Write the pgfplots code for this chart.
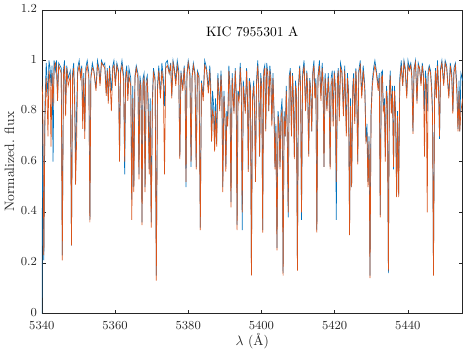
\documentclass[border=0pt]{standalone}
\usepackage{pgfplots}
\usepackage{pgfplotstable}
\pgfplotsset{compat=1.18}
\definecolor{mblue}{rgb}{0,0.447,0.741}
\definecolor{morange}{rgb}{0.85,0.325,0.098}
\definecolor{axgray}{rgb}{0.15,0.15,0.15}
\pgfplotstableread{
x b o
5340.00 0.00 0.90
5340.25 0.75 0.86
5340.55 0.21 0.23
5340.85 0.82 0.76
5341.20 0.99 0.93
5341.45 0.92 0.85
5341.68 0.86 0.70
5341.95 1.00 0.96
5342.25 0.97 0.92
5342.51 0.90 0.66
5342.80 0.98 0.95
5343.07 0.60 0.82
5343.35 1.00 0.97
5343.70 0.96 0.99
5344.00 1.00 0.97
5344.30 0.86 0.84
5344.60 0.99 0.98
5345.30 0.97 0.95
5345.59 0.23 0.21
5345.90 0.96 0.94
5346.20 1.00 0.98
5346.50 0.82 0.78
5346.80 0.98 0.97
5347.20 0.93 0.90
5347.80 0.96 0.94
5348.10 0.27 0.27
5348.40 0.95 0.93
5348.70 0.99 0.97
5349.00 0.85 0.80
5349.22 0.57 0.51
5349.50 0.80 0.68
5349.80 0.97 0.95
5350.20 1.00 0.98
5350.60 0.94 0.93
5350.90 0.98 0.97
5351.17 0.76 0.73
5351.45 0.95 0.93
5351.73 0.72 0.69
5352.00 0.97 0.95
5352.40 1.00 0.98
5352.85 0.95 0.93
5353.13 0.37 0.36
5353.40 0.94 0.93
5353.80 0.99 0.97
5354.20 0.96 0.96
5354.80 0.89 0.88
5355.20 1.00 0.98
5355.60 0.97 0.96
5355.90 0.91 0.90
5356.30 1.00 0.99
5356.80 0.98 0.98
5357.20 0.99 0.97
5357.60 0.87 0.86
5357.90 0.97 0.96
5358.16 0.84 0.83
5358.50 0.98 0.97
5359.00 0.88 0.80
5359.40 0.98 0.97
5359.70 1.00 0.98
5360.10 0.91 0.90
5360.50 0.99 0.98
5360.95 0.96 0.95
5361.23 0.62 0.60
5361.50 0.96 0.95
5361.90 1.00 0.98
5362.35 0.94 0.92
5362.63 0.55 0.60
5362.90 0.95 0.93
5363.20 0.98 0.96
5363.50 0.86 0.84
5363.80 0.97 0.94
5364.30 0.93 0.90
5364.58 0.45 0.37
5364.85 0.90 0.85
5365.14 0.50 0.48
5365.45 0.94 0.93
5365.80 0.98 0.97
5366.25 0.95 0.93
5366.54 0.55 0.53
5366.80 0.94 0.92
5367.10 0.90 0.88
5367.37 0.36 0.35
5367.65 0.93 0.91
5367.95 0.95 0.93
5368.21 0.50 0.48
5368.50 0.92 0.90
5368.80 0.94 0.92
5369.05 0.85 0.80
5369.33 0.57 0.55
5369.60 0.85 0.80
5369.89 0.36 0.34
5370.20 0.85 0.82
5370.50 0.97 0.95
5370.95 0.93 0.92
5371.28 0.15 0.13
5371.60 0.90 0.88
5371.95 0.98 0.96
5372.40 0.86 0.85
5372.80 0.99 0.96
5373.20 0.93 0.90
5373.52 0.82 0.55
5373.85 0.99 0.97
5374.30 1.00 0.98
5374.80 0.95 0.95
5375.20 0.99 0.98
5375.50 0.86 0.85
5375.85 1.00 0.99
5376.20 0.97 0.96
5376.60 0.92 0.90
5377.00 1.00 0.98
5377.40 0.96 0.94
5377.71 0.62 0.61
5378.00 0.96 0.95
5378.50 0.89 0.88
5378.90 0.98 0.97
5379.15 0.90 0.88
5379.39 0.50 0.52
5379.65 0.95 0.94
5380.00 1.00 0.99
5380.45 0.96 0.94
5380.78 0.58 0.60
5381.05 0.94 0.93
5381.40 0.99 0.98
5381.85 0.95 0.94
5382.18 0.58 0.57
5382.50 0.96 0.95
5382.95 0.94 0.93
5383.30 0.34 0.33
5383.60 0.92 0.91
5384.10 0.86 0.84
5384.50 1.00 0.98
5385.00 0.97 0.96
5385.50 0.89 0.87
5385.90 0.98 0.96
5386.15 0.90 0.85
5386.37 0.68 0.68
5386.65 0.88 0.80
5386.95 0.82 0.78
5387.21 0.66 0.64
5387.45 0.85 0.80
5387.77 0.68 0.66
5388.10 0.95 0.93
5388.60 0.82 0.80
5388.95 0.96 0.94
5389.20 0.88 0.85
5389.44 0.50 0.48
5389.75 0.88 0.86
5390.05 0.78 0.76
5390.28 0.58 0.56
5390.55 0.80 0.78
5390.80 0.76 0.74
5391.10 0.98 0.96
5391.40 0.90 0.88
5391.68 0.44 0.42
5392.00 0.95 0.93
5392.50 0.80 0.79
5392.85 0.97 0.96
5393.10 0.88 0.86
5393.35 0.35 0.33
5393.60 0.88 0.86
5393.90 0.85 0.84
5394.20 0.99 0.97
5394.50 0.90 0.88
5394.75 0.33 0.40
5395.05 0.92 0.90
5395.60 0.80 0.79
5395.95 0.97 0.96
5396.20 0.85 0.84
5396.42 0.57 0.56
5396.70 0.93 0.92
5397.00 0.90 0.88
5397.26 0.17 0.15
5397.55 0.85 0.84
5397.90 0.92 0.90
5398.15 0.80 0.78
5398.38 0.53 0.52
5398.65 0.92 0.90
5399.00 1.00 0.98
5399.25 0.90 0.88
5399.50 0.62 0.62
5399.80 0.95 0.93
5400.10 0.90 0.88
5400.34 0.33 0.32
5400.60 0.96 0.94
5400.90 0.98 0.97
5401.17 0.73 0.72
5401.45 0.99 0.97
5401.75 0.95 0.94
5402.00 0.80 0.80
5402.30 0.98 0.96
5402.60 0.93 0.90
5402.85 0.76 0.74
5403.15 0.95 0.93
5403.45 0.80 0.78
5403.69 0.58 0.57
5403.95 0.75 0.72
5404.25 0.26 0.25
5404.55 0.80 0.78
5404.85 0.75 0.72
5405.08 0.58 0.57
5405.35 0.80 0.78
5405.65 0.85 0.80
5405.92 0.16 0.15
5406.20 0.80 0.78
5406.50 0.70 0.70
5406.80 0.90 0.88
5407.04 0.73 0.72
5407.32 0.38 0.40
5407.60 0.94 0.93
5407.90 0.97 0.95
5408.20 0.72 0.70
5408.50 0.95 0.94
5408.75 0.85 0.82
5409.00 0.62 0.61
5409.30 0.92 0.90
5409.55 0.88 0.86
5409.83 0.18 0.17
5410.10 0.90 0.88
5410.45 0.98 0.97
5410.70 0.90 0.88
5410.95 0.37 0.40
5411.25 0.95 0.93
5411.65 1.00 0.98
5412.07 0.81 0.80
5412.40 0.96 0.95
5412.65 0.88 0.86
5412.91 0.63 0.62
5413.20 0.93 0.92
5413.50 0.88 0.86
5413.74 0.72 0.72
5414.05 0.96 0.95
5414.35 1.00 0.98
5414.60 0.86 0.85
5414.88 0.93 0.91
5415.14 0.33 0.32
5415.45 0.94 0.93
5415.85 1.00 0.98
5416.26 0.86 0.84
5416.60 0.99 0.97
5416.85 0.92 0.90
5417.09 0.58 0.58
5417.40 0.95 0.93
5417.90 0.81 0.80
5418.25 0.95 0.93
5418.50 0.88 0.85
5418.77 0.58 0.57
5419.05 0.93 0.90
5419.35 0.96 0.93
5419.60 0.76 0.74
5419.90 0.96 0.95
5420.20 0.90 0.88
5420.45 0.37 0.52
5420.75 0.93 0.91
5421.00 0.97 0.96
5421.28 0.78 0.76
5421.60 0.99 0.97
5422.00 0.96 0.95
5422.40 0.80 0.78
5422.75 0.98 0.96
5423.20 0.72 0.70
5423.50 0.95 0.93
5423.80 0.88 0.86
5424.08 0.32 0.31
5424.35 0.85 0.82
5424.64 0.50 0.50
5424.95 0.90 0.88
5425.20 0.95 0.93
5425.50 0.76 0.75
5425.80 0.97 0.96
5426.05 0.88 0.86
5426.31 0.60 0.59
5426.60 0.96 0.95
5427.00 1.00 0.98
5427.40 0.86 0.85
5427.80 0.98 0.96
5428.25 0.90 0.88
5428.55 0.68 0.68
5428.85 0.75 0.70
5429.10 0.52 0.50
5429.40 0.70 0.68
5429.66 0.15 0.14
5429.95 0.80 0.78
5430.30 0.92 0.90
5430.65 0.97 0.95
5431.00 1.00 0.98
5431.40 0.96 0.95
5431.90 0.90 0.88
5432.20 0.95 0.93
5432.46 0.39 0.38
5432.75 0.95 0.93
5433.05 0.96 0.94
5433.30 0.80 0.80
5433.60 0.85 0.82
5433.85 0.62 0.60
5434.15 0.90 0.88
5434.40 0.85 0.83
5434.69 0.16 0.17
5434.95 0.88 0.86
5435.20 0.96 0.94
5435.50 0.80 0.79
5435.80 0.90 0.88
5436.09 0.57 0.58
5436.35 0.90 0.88
5436.65 0.80 0.78
5436.93 0.47 0.46
5437.20 0.80 0.78
5437.49 0.47 0.46
5437.80 0.93 0.91
5438.20 1.00 0.98
5438.60 0.90 0.90
5438.95 1.00 0.99
5439.30 0.97 0.96
5439.70 0.86 0.85
5440.05 1.00 0.98
5440.40 0.97 0.96
5440.80 0.99 0.98
5441.10 0.95 0.93
5441.40 0.72 0.71
5441.70 0.97 0.96
5442.10 1.00 0.99
5442.50 0.84 0.83
5442.85 0.99 0.98
5443.20 0.97 0.97
5443.60 0.91 0.90
5443.95 0.99 0.98
5444.25 0.95 0.94
5444.55 0.80 0.62
5444.80 0.96 0.93
5445.05 0.92 0.90
5445.30 0.80 0.40
5445.55 0.96 0.94
5445.85 0.98 0.97
5446.20 0.96 0.95
5446.50 0.90 0.88
5446.75 0.80 0.78
5447.00 0.16 0.15
5447.30 0.85 0.84
5447.55 0.97 0.96
5447.80 0.86 0.85
5448.10 1.00 0.98
5448.40 0.90 0.88
5448.66 0.69 0.70
5448.95 0.97 0.96
5449.30 1.00 0.99
5449.80 0.91 0.90
5450.20 1.00 0.99
5450.60 0.98 0.97
5451.20 0.86 0.85
5451.60 0.99 0.98
5452.00 0.95 0.93
5452.30 0.80 0.79
5452.60 0.97 0.95
5453.00 0.99 0.98
5453.40 0.90 0.87
5453.70 0.73 0.72
5454.00 0.92 0.88
5454.20 0.72 0.72
5454.50 0.95 0.80
5455.00 0.92 0.85
}\spec
\begin{document}
\begin{tikzpicture}
\begin{axis}[
  scale only axis,
  width=309pt, height=223pt,
  xmin=5340, xmax=5455, ymin=0, ymax=1.2,
  xtick={5340,5360,...,5440},
  ytick={0,0.2,...,1.2},
  tick align=inside,
  tick pos=both,
  major tick length=3pt,
  axis line style={axgray, line width=0.4pt},
  every tick/.style={axgray, line width=0.4pt},
  tick label style={font=\small, text=axgray},
  x tick label style={/pgf/number format/1000 sep={}, yshift=-2pt},
  y tick label style={/pgf/number format/fixed, yshift=1pt},
  xlabel={$\lambda$ (\AA)},
  ylabel={Normalized. flux},
  label style={font=\normalsize, text=axgray},
  xlabel style={yshift=4pt},
  ylabel style={yshift=-2pt},
  clip=true,
]
\addplot[mblue, line width=0.5pt] table[x=x, y=b] {\spec};
\addplot[morange, line width=0.5pt] table[x=x, y=o] {\spec};
\node[font=\normalsize, text=black] at (rel axis cs:0.5,0.927) {KIC 7955301 A};
\end{axis}
\end{tikzpicture}
\end{document}
